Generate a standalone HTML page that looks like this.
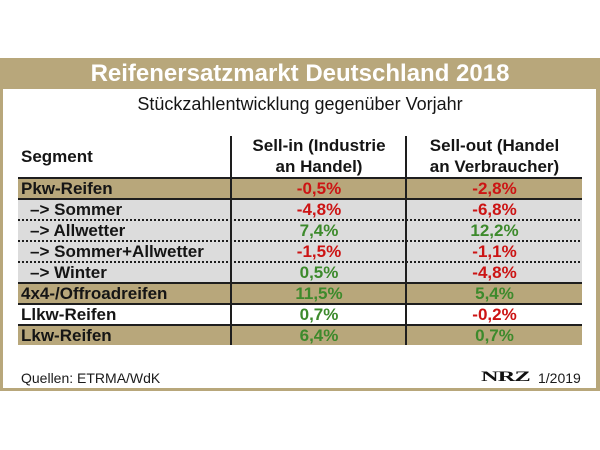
<!DOCTYPE html>
<html>
<head>
<meta charset="utf-8">
<style>
  html, body { margin:0; padding:0; }
  body { width:600px; height:450px; background:#ffffff; position:relative; overflow:hidden;
         font-family:"Liberation Sans", Arial, sans-serif; }
  .abs { position:absolute; }
  .frame { left:0; top:58px; width:600px; height:333px; background:#b8a77b; }
  .inner { left:3px; top:89px; width:593px; height:299px; background:#ffffff; }
  .title { left:0; top:58px; width:600px; height:31px; line-height:31px; text-align:center;
           color:#ffffff; font-weight:bold; font-size:24px; }
  .subtitle { left:0; top:94px; width:600px; line-height:20px; text-align:center; color:#151515;
              font-size:18px; }
  .hdr { font-weight:bold; font-size:17px; line-height:21px; color:#151515; text-align:center; }
  .row { left:18px; width:564px; height:19px; }
  .tan { background:#b8a77b; }
  .gray { background:#dcdcdc; }
  .line { left:18px; width:564px; height:2px; background:#1e1e1e; }
  .dot { left:18px; width:564px; height:2px;
         background:repeating-linear-gradient(to right, #1e1e1e 0 2px, transparent 2px 4px); }
  .vline { top:136px; width:2px; height:209px; background:#1e1e1e; }
  .cell { height:19px; line-height:19px; font-weight:bold; font-size:17px; color:#151515; white-space:nowrap; }
  .lab { left:21px; }
  .sub { left:30px; }
  .c1 { left:232px; width:174px; text-align:center; }
  .c2 { left:407px; width:175px; text-align:center; }
  .r { color:#cc1414; }
  .g { color:#3d8a2c; }
  .foot { top:370px; line-height:17px; font-size:14px; color:#1a1a1a; }
  .logo { left:481px; top:369px; font-family:"Liberation Serif", serif; font-weight:bold; font-size:15px;
          line-height:17px; color:#111; transform:scaleX(1.62); transform-origin:left center; letter-spacing:-0.5px; }
</style>
</head>
<body>
  <div class="abs frame"></div>
  <div class="abs inner"></div>
  <div class="abs title">Reifenersatzmarkt Deutschland 2018</div>
  <div class="abs subtitle">Stückzahlentwicklung gegenüber Vorjahr</div>

  <!-- header -->
  <div class="abs hdr" style="left:21px; top:146px; text-align:left;">Segment</div>
  <div class="abs hdr" style="left:232px; top:135px; width:174px;">Sell-in (Industrie<br>an Handel)</div>
  <div class="abs hdr" style="left:407px; top:135px; width:175px;">Sell-out (Handel<br>an Verbraucher)</div>

  <!-- row backgrounds -->
  <div class="abs row tan" style="top:179px;"></div>
  <div class="abs gray" style="left:18px; width:564px; top:200px; height:82px;"></div>
  <div class="abs row tan" style="top:284px;"></div>
  <div class="abs row tan" style="top:326px;"></div>

  <!-- lines -->
  <div class="abs line" style="top:177px;"></div>
  <div class="abs line" style="top:198px;"></div>
  <div class="abs dot" style="top:219px;"></div>
  <div class="abs dot" style="top:240px;"></div>
  <div class="abs dot" style="top:261px;"></div>
  <div class="abs line" style="top:282px;"></div>
  <div class="abs line" style="top:303px;"></div>
  <div class="abs line" style="top:324px;"></div>

  <div class="abs vline" style="left:230px;"></div>
  <div class="abs vline" style="left:405px;"></div>

  <!-- row texts -->
  <div class="abs cell lab" style="top:179px;">Pkw-Reifen</div>
  <div class="abs cell c1 r" style="top:179px;">-0,5%</div>
  <div class="abs cell c2 r" style="top:179px;">-2,8%</div>

  <div class="abs cell sub" style="top:200px;">–&gt; Sommer</div>
  <div class="abs cell c1 r" style="top:200px;">-4,8%</div>
  <div class="abs cell c2 r" style="top:200px;">-6,8%</div>

  <div class="abs cell sub" style="top:221px;">–&gt; Allwetter</div>
  <div class="abs cell c1 g" style="top:221px;">7,4%</div>
  <div class="abs cell c2 g" style="top:221px;">12,2%</div>

  <div class="abs cell sub" style="top:242px;">–&gt; Sommer+Allwetter</div>
  <div class="abs cell c1 r" style="top:242px;">-1,5%</div>
  <div class="abs cell c2 r" style="top:242px;">-1,1%</div>

  <div class="abs cell sub" style="top:263px;">–&gt; Winter</div>
  <div class="abs cell c1 g" style="top:263px;">0,5%</div>
  <div class="abs cell c2 r" style="top:263px;">-4,8%</div>

  <div class="abs cell lab" style="top:284px;">4x4-/Offroadreifen</div>
  <div class="abs cell c1 g" style="top:284px;">11,5%</div>
  <div class="abs cell c2 g" style="top:284px;">5,4%</div>

  <div class="abs cell lab" style="top:305px;">Llkw-Reifen</div>
  <div class="abs cell c1 g" style="top:305px;">0,7%</div>
  <div class="abs cell c2 r" style="top:305px;">-0,2%</div>

  <div class="abs cell lab" style="top:326px;">Lkw-Reifen</div>
  <div class="abs cell c1 g" style="top:326px;">6,4%</div>
  <div class="abs cell c2 g" style="top:326px;">0,7%</div>

  <!-- footer -->
  <div class="abs foot" style="left:21px;">Quellen: ETRMA/WdK</div>
  <div class="abs logo">NRZ</div>
  <div class="abs foot" style="left:538px;">1/2019</div>
</body>
</html>
